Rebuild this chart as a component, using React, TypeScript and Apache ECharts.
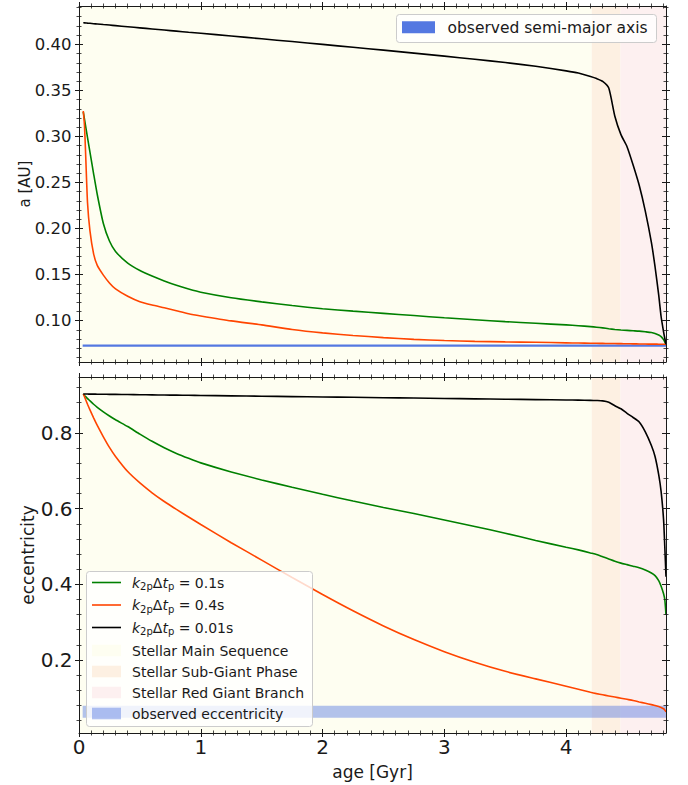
import React, { useEffect, useRef } from 'react';
import * as echarts from 'echarts';

// ---------------- data ----------------
const ages = [0.035, 0.045, 0.055, 0.07, 0.09, 0.12, 0.15, 0.2, 0.25, 0.3, 0.4, 0.5, 0.6, 0.7, 0.8, 0.9, 1.0, 1.25, 1.5, 1.75, 2.0, 2.25, 2.5, 2.75, 3.0, 3.25, 3.5, 3.75, 4.0, 4.1, 4.2, 4.25, 4.3, 4.35, 4.4, 4.45, 4.5, 4.55, 4.6, 4.65, 4.7, 4.73, 4.76, 4.78, 4.8, 4.81, 4.82];

// semi-major axis [AU]
const aK001 = [0.4234, 0.4233, 0.4232, 0.4230, 0.4228, 0.4224, 0.4221, 0.4215, 0.4209, 0.4203, 0.4191, 0.4179, 0.4167, 0.4155, 0.4143, 0.4131, 0.4120, 0.4090, 0.4060, 0.4030, 0.3999, 0.3968, 0.3937, 0.3905, 0.3872, 0.3838, 0.3802, 0.3762, 0.3712, 0.3688, 0.3650, 0.3628, 0.3598, 0.3525, 0.3220, 0.3020, 0.2889, 0.2690, 0.2470, 0.2190, 0.1850, 0.1586, 0.1280, 0.1043, 0.0880, 0.0810, 0.0745];
const aK01 = [0.3268, 0.3188, 0.3108, 0.2988, 0.2830, 0.2595, 0.2370, 0.2055, 0.1865, 0.1752, 0.1625, 0.1545, 0.1485, 0.1432, 0.1385, 0.1345, 0.1310, 0.1250, 0.1205, 0.1165, 0.1130, 0.1104, 0.1080, 0.1056, 0.1032, 0.1010, 0.0990, 0.0972, 0.0955, 0.0946, 0.0936, 0.0930, 0.0922, 0.0913, 0.0905, 0.0899, 0.0895, 0.0891, 0.0887, 0.0880, 0.0872, 0.0862, 0.0845, 0.0828, 0.0795, 0.0770, 0.0736];
const aK04 = [0.3276, 0.3120, 0.2790, 0.2280, 0.1975, 0.1725, 0.1600, 0.1495, 0.1410, 0.1345, 0.1265, 0.1206, 0.1170, 0.1140, 0.1108, 0.1076, 0.1052, 0.0998, 0.0955, 0.0905, 0.0868, 0.0840, 0.0817, 0.0798, 0.0785, 0.0776, 0.0770, 0.0766, 0.0760, 0.0758, 0.0756, 0.0755, 0.0754, 0.0753, 0.0752, 0.0751, 0.0750, 0.0749, 0.0748, 0.0747, 0.0746, 0.0746, 0.0745, 0.0745, 0.0744, 0.0744, 0.0743];

// eccentricity
const eK001 = [0.9030, 0.9030, 0.9029, 0.9029, 0.9028, 0.9027, 0.9026, 0.9024, 0.9022, 0.9020, 0.9016, 0.9012, 0.9008, 0.9004, 0.9000, 0.8996, 0.8992, 0.8982, 0.8972, 0.8962, 0.8952, 0.8943, 0.8933, 0.8923, 0.8913, 0.8903, 0.8893, 0.8883, 0.8873, 0.8868, 0.8862, 0.8858, 0.8850, 0.8815, 0.8720, 0.8640, 0.8520, 0.8410, 0.8290, 0.8030, 0.7670, 0.7380, 0.6900, 0.6450, 0.5710, 0.5000, 0.4200];
const eK01 = [0.9030, 0.8995, 0.8960, 0.8910, 0.8850, 0.8760, 0.8680, 0.8560, 0.8450, 0.8350, 0.8170, 0.7970, 0.7780, 0.7610, 0.7460, 0.7330, 0.7210, 0.6970, 0.6760, 0.6565, 0.6380, 0.6200, 0.6030, 0.5870, 0.5700, 0.5530, 0.5350, 0.5160, 0.4980, 0.4910, 0.4830, 0.4790, 0.4730, 0.4670, 0.4610, 0.4560, 0.4520, 0.4480, 0.4440, 0.4380, 0.4300, 0.4230, 0.4100, 0.3950, 0.3750, 0.3600, 0.3190];
const eK04 = [0.903, 0.896, 0.888, 0.876, 0.861, 0.840, 0.820, 0.790, 0.762, 0.738, 0.698, 0.668, 0.642, 0.619, 0.598, 0.578, 0.558, 0.510, 0.464, 0.418, 0.373, 0.330, 0.290, 0.254, 0.222, 0.194, 0.170, 0.150, 0.1305, 0.1225, 0.1145, 0.111, 0.108, 0.105, 0.102, 0.099, 0.096, 0.093, 0.089, 0.0855, 0.082, 0.0795, 0.077, 0.0745, 0.071, 0.068, 0.063];

const observedA = 0.073;
const observedEccRange = [0.047, 0.079];
const observedAgeRange = [0.03, 4.82];

const phaseNames = ['Stellar Main Sequence', 'Stellar Sub-Giant Phase', 'Stellar Red Giant Branch'];
const phaseStart = [0, 4.21, 4.447];
const phaseEnd = [4.21, 4.447, 4.82];

const curveNames = ['k2pΔtp = 0.1s', 'k2pΔtp = 0.4s', 'k2pΔtp = 0.01s'];
const curveValues = ['0.1s', '0.4s', '0.01s'];

// axes
const ageMin = 0;
const ageMax = 4.82;
const aMin = 0.0552;
const aMax = 0.4416;
const eMin = 0.007;
const eMax = 0.948;
const xTicks = [0, 1, 2, 3, 4];
const xTickLabels = ['0', '1', '2', '3', '4'];
const aTicks = [0.1, 0.15, 0.2, 0.25, 0.3, 0.35, 0.4];
const aTickLabels = ['0.10', '0.15', '0.20', '0.25', '0.30', '0.35', '0.40'];
const eTicks = [0.2, 0.4, 0.6, 0.8];
const eTickLabels = ['0.2', '0.4', '0.6', '0.8'];
const xMinorStep = 0.1;
const aMinorStep = 0.01;
const eMinorStep = 0.04;

// ---------------- style ----------------
const FONT = 'DejaVu Sans';
const INK = '#1a1a1a';
const GREEN = '#008000';
const ORANGE = '#ff4500';
const BLACK = '#000000';
const OBS_BLUE = '#5478e1';
const BAND_BLUE = 'rgba(65,105,225,0.4)';
const PHASE_COLORS = ['#fefef1', '#fdf0e2', '#fdf0f0'];

function steps(from: number, to: number, step: number): number[] {
  const out: number[] = [];
  const n = Math.round((to - from) / step);
  for (let i = 0; i <= n; i++) out.push(Math.round((from + i * step) * 10000) / 10000);
  return out;
}

function labelFor(ticks: number[], labels: string[]) {
  return (v: number) => {
    const i = ticks.findIndex((t) => Math.abs(t - v) < 1e-6);
    return i >= 0 ? labels[i] : '';
  };
}

function sideAxes(
  gridIndex: number,
  position: string,
  min: number,
  max: number,
  majors: number[],
  minors: number[],
  extra: any = {}
) {
  const base: any = {
    type: 'value',
    gridIndex,
    position,
    min,
    max,
    splitLine: { show: false },
    axisLine: { show: false, onZero: false },
    axisTick: { show: false },
    axisLabel: { show: false },
    silent: true,
    z: 10,
  };
  const major: any = {
    ...base,
    offset: -4,
    axisTick: { show: true, inside: false, length: 8, customValues: majors, lineStyle: { color: INK, width: 1 } },
    axisLabel: extra.labels
      ? {
          show: true,
          customValues: majors,
          formatter: extra.formatter,
          fontSize: extra.labelSize,
          fontFamily: FONT,
          color: INK,
          margin: extra.labelMargin,
        }
      : { show: false },
  };
  const minor: any = {
    ...base,
    offset: -2.5,
    axisTick: { show: true, inside: false, length: 5, customValues: minors, lineStyle: { color: INK, width: 0.8 } },
  };
  const frame: any = {
    ...base,
    offset: 0,
    axisLine: { show: true, onZero: false, lineStyle: { color: INK, width: 1 } },
  };
  if (extra.name) {
    frame.name = extra.name;
    frame.nameLocation = 'middle';
    frame.nameGap = extra.nameGap;
    if (extra.nameRotate != null) frame.nameRotate = extra.nameRotate;
    frame.nameTextStyle = { fontSize: extra.nameSize, fontFamily: FONT, color: INK };
  }
  return [major, minor, frame];
}

function lineSeries(name: string, values: number[], color: string, g: number) {
  return {
    name,
    type: 'line',
    xAxisIndex: g * 6,
    yAxisIndex: g * 6,
    data: ages.map((t, i) => [t, values[i]]),
    showSymbol: false,
    symbol: 'none',
    smooth: 0.2,
    lineStyle: { color, width: 1.6 },
    itemStyle: { color },
    silent: true,
    z: 5,
  };
}

function phaseSeries(g: number) {
  return {
    type: 'line',
    xAxisIndex: g * 6,
    yAxisIndex: g * 6,
    data: [],
    silent: true,
    z: 1,
    markArea: {
      silent: true,
      label: { show: false },
      data: phaseNames.map((n, i) => [
        { name: n, xAxis: phaseStart[i], itemStyle: { color: PHASE_COLORS[i], borderWidth: 0 } },
        { xAxis: phaseEnd[i] },
      ]),
    },
  };
}

function mathLabel(value: string) {
  return `{i|k}{s|2p}{n|Δ}{i|t}{s|p}{n| = ${value}}`;
}

const mathRich = {
  i: { fontFamily: FONT, fontSize: 14, fontStyle: 'italic', lineHeight: 18, fill: INK, color: INK },
  n: { fontFamily: FONT, fontSize: 14, lineHeight: 18, fill: INK, color: INK },
  s: { fontFamily: FONT, fontSize: 10, lineHeight: 11, verticalAlign: 'bottom', fill: INK, color: INK },
};

function buildOption() {
  const xAxes: any[] = [];
  const yAxes: any[] = [];
  const xMinor = steps(xMinorStep, 4.8, xMinorStep);
  const aMinor = steps(0.06, 0.44, aMinorStep);
  const eMinor = steps(eMinorStep, 0.92, eMinorStep);

  // grid 0 (semi-major axis)
  xAxes.push(...sideAxes(0, 'bottom', ageMin, ageMax, xTicks, xMinor));
  xAxes.push(...sideAxes(0, 'top', ageMin, ageMax, xTicks, xMinor));
  yAxes.push(
    ...sideAxes(0, 'left', aMin, aMax, aTicks, aMinor, {
      labels: true,
      formatter: labelFor(aTicks, aTickLabels),
      labelSize: 16.5,
      labelMargin: 11.5,
      name: 'a [AU]',
      nameGap: 47,
      nameRotate: 90,
      nameSize: 15,
    })
  );
  yAxes.push(...sideAxes(0, 'right', aMin, aMax, aTicks, aMinor));

  // grid 1 (eccentricity)
  xAxes.push(
    ...sideAxes(1, 'bottom', ageMin, ageMax, xTicks, xMinor, {
      labels: true,
      formatter: labelFor(xTicks, xTickLabels),
      labelSize: 20,
      labelMargin: 8,
      name: 'age [Gyr]',
      nameGap: 30,
      nameSize: 17,
    })
  );
  xAxes.push(...sideAxes(1, 'top', ageMin, ageMax, xTicks, xMinor));
  yAxes.push(
    ...sideAxes(1, 'left', eMin, eMax, eTicks, eMinor, {
      labels: true,
      formatter: labelFor(eTicks, eTickLabels),
      labelSize: 20,
      labelMargin: 10.5,
      name: 'eccentricity',
      nameGap: 43,
      nameRotate: 90,
      nameSize: 17,
    })
  );
  yAxes.push(...sideAxes(1, 'right', eMin, eMax, eTicks, eMinor));

  const series: any[] = [
    phaseSeries(0),
    {
      name: 'observed semi-major axis',
      type: 'line',
      xAxisIndex: 0,
      yAxisIndex: 0,
      data: observedAgeRange.map((t) => [t, observedA]),
      showSymbol: false,
      symbol: 'none',
      lineStyle: { color: OBS_BLUE, width: 2.2 },
      silent: true,
      z: 3,
    },
    lineSeries('a ' + curveNames[0], aK01, GREEN, 0),
    lineSeries('a ' + curveNames[1], aK04, ORANGE, 0),
    lineSeries('a ' + curveNames[2], aK001, BLACK, 0),
    phaseSeries(1),
    {
      name: 'observed eccentricity',
      type: 'line',
      xAxisIndex: 6,
      yAxisIndex: 6,
      data: [],
      silent: true,
      z: 2,
      markArea: {
        silent: true,
        label: { show: false },
        itemStyle: { color: BAND_BLUE, borderWidth: 0 },
        data: [
          [
            { xAxis: observedAgeRange[0], yAxis: observedEccRange[0] },
            { xAxis: observedAgeRange[1], yAxis: observedEccRange[1] },
          ],
        ],
      },
    },
    lineSeries('e ' + curveNames[0], eK01, GREEN, 1),
    lineSeries('e ' + curveNames[1], eK04, ORANGE, 1),
    lineSeries('e ' + curveNames[2], eK001, BLACK, 1),
  ];

  // legends drawn as graphics
  const legendX = 86;
  const legendY = 571;
  const rowYs = [582.5, 605, 627.5, 650.5, 671.5, 692.5, 713.5];
  const handleX = 92;
  const handleW = 29;
  const textX = 132;
  const lineColors = [GREEN, ORANGE, BLACK];
  const patchColors = [...PHASE_COLORS, BAND_BLUE];
  const patchLabels = [...phaseNames, 'observed eccentricity'];

  const graphics: any[] = [
    {
      type: 'rect',
      z: 100,
      shape: { x: legendX + 0.5, y: legendY + 0.5, width: 226, height: 155, r: 3 },
      style: { fill: 'rgba(255,255,255,0.8)', stroke: '#cccccc', lineWidth: 1 },
    },
  ];
  curveValues.forEach((v, i) => {
    graphics.push({
      type: 'line',
      z: 101,
      shape: { x1: handleX, y1: rowYs[i], x2: handleX + handleW, y2: rowYs[i] },
      style: { stroke: lineColors[i], lineWidth: 1.6 },
    });
    graphics.push({
      type: 'text',
      z: 101,
      x: textX,
      y: rowYs[i],
      style: {
        text: mathLabel(v),
        rich: mathRich,
        verticalAlign: 'middle',
        align: 'left',
      },
    });
  });
  patchLabels.forEach((label, k) => {
    const y = rowYs[k + 3];
    graphics.push({
      type: 'rect',
      z: 101,
      shape: { x: handleX, y: y - 5.8, width: handleW, height: 11.6 },
      style: { fill: patchColors[k] },
    });
    graphics.push({
      type: 'text',
      z: 101,
      x: textX,
      y,
      style: { text: label, fontFamily: FONT, fontSize: 14, fill: INK, verticalAlign: 'middle', align: 'left' },
    });
  });

  // top legend
  graphics.push({
    type: 'rect',
    z: 100,
    shape: { x: 396.5, y: 14.5, width: 260, height: 28, r: 3 },
    style: { fill: 'rgba(255,255,255,0.8)', stroke: '#cccccc', lineWidth: 1 },
  });
  graphics.push({
    type: 'rect',
    z: 101,
    shape: { x: 402, y: 21.3, width: 33, height: 12 },
    style: { fill: OBS_BLUE },
  });
  graphics.push({
    type: 'text',
    z: 101,
    x: 447.5,
    y: 27.8,
    style: {
      text: 'observed semi-major axis',
      fontFamily: FONT,
      fontSize: 15.5,
      fill: INK,
      verticalAlign: 'middle',
      align: 'left',
    },
  });

  return {
    animation: false,
    backgroundColor: '#ffffff',
    textStyle: { fontFamily: FONT },
    grid: [
      { left: 79, top: 6, width: 587, height: 356, containLabel: false },
      { left: 79, top: 377, width: 587, height: 356, containLabel: false },
    ],
    xAxis: xAxes,
    yAxis: yAxes,
    series,
    graphic: graphics,
  };
}

export default function App() {
  const ref = useRef<HTMLDivElement>(null);
  useEffect(() => {
    if (!ref.current) return;
    const chart = echarts.init(ref.current, undefined, { renderer: 'svg' });
    chart.setOption(buildOption() as any);
    return () => chart.dispose();
  }, []);
  return (
    <div
      ref={ref}
      style={{ position: 'fixed', left: 0, top: 0, width: 688, height: 785, background: '#fff' }}
    />
  );
}
